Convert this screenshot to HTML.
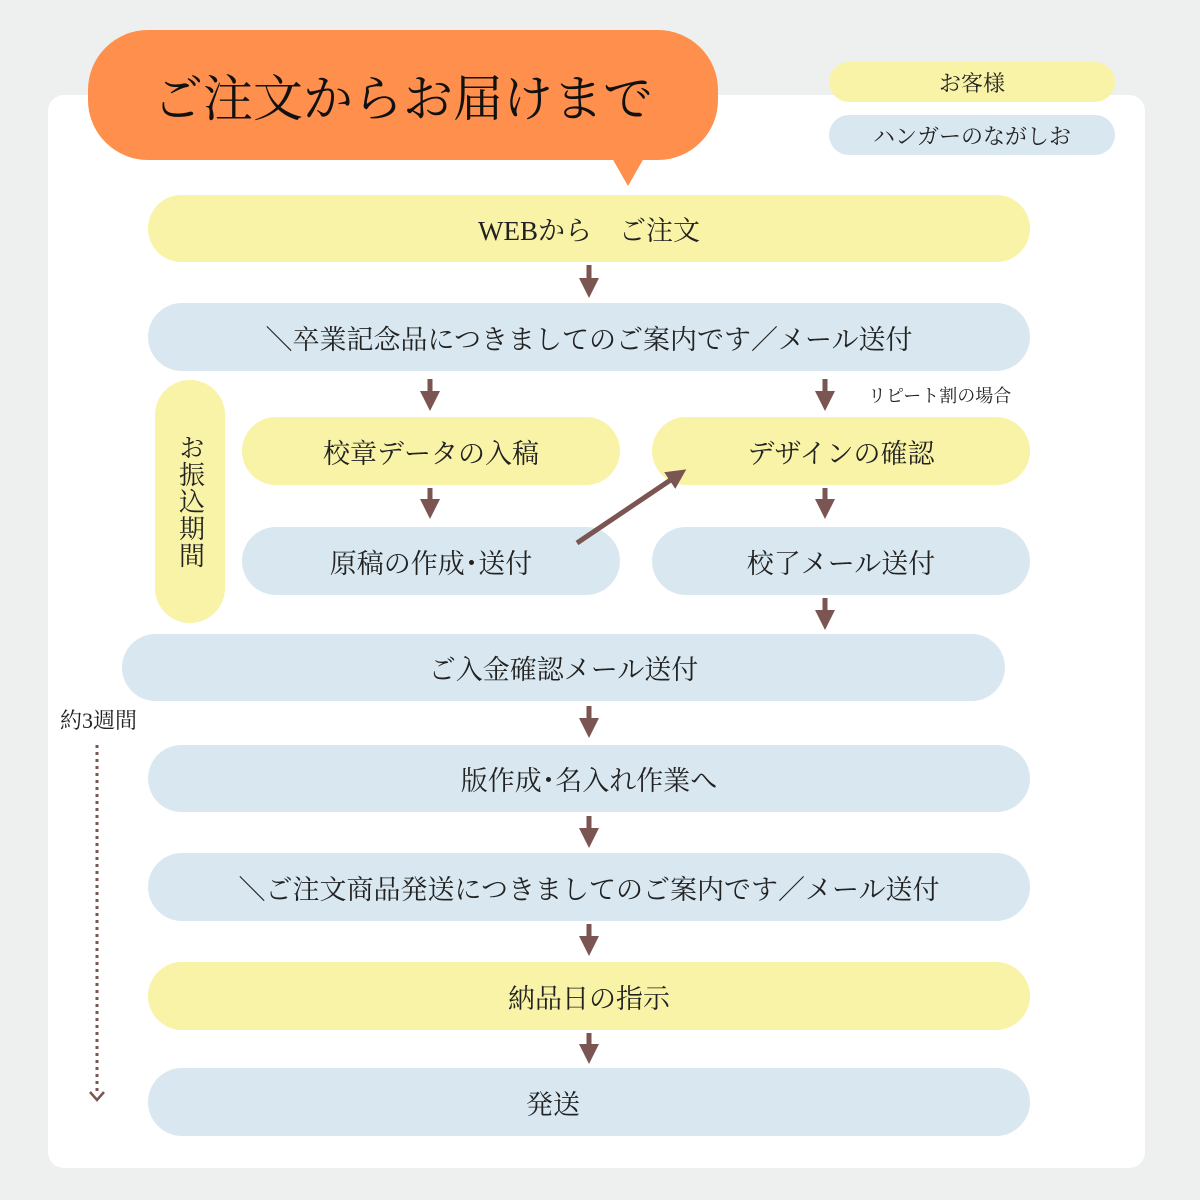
<!DOCTYPE html>
<html><head><meta charset="utf-8"><style>
body{margin:0;width:1200px;height:1200px;background:#eef0f0;position:relative;overflow:hidden;font-family:"Liberation Serif","Noto Serif CJK SC",serif;color:#222}
.a{position:absolute}
.p{position:absolute;border-radius:34px;display:flex;align-items:center;justify-content:center;font-size:27px}
.y{background:#f8f3a6}.b{background:#d9e8f0}
</style></head><body>
<div class="a" style="left:48px;top:95px;width:1097px;height:1073px;background:#fff;border-radius:16px"></div>
<div class="a" style="left:88px;top:30px;width:630px;height:130px;background:#fe8f4c;border-radius:60px;display:flex;align-items:center;justify-content:center;font-size:50px;color:#111">ご注文からお届けまで</div>
<svg class="a" style="left:0;top:0" width="1200" height="1200">
<polygon points="612,158 644,158 628,186" fill="#fe8f4c"/>
</svg>
<div class="p y" style="left:829px;top:62px;width:286px;height:40px;border-radius:20px;font-size:22px">お客様</div>
<div class="p b" style="left:829px;top:115px;width:286px;height:40px;border-radius:20px;font-size:22px">ハンガーのながしお</div>
<div class="p y" style="left:148px;top:195px;width:882px;height:67px">WEBから　ご注文</div>
<div class="p b" style="left:148px;top:303px;width:882px;height:68px">＼卒業記念品につきましてのご案内です／メール送付</div>
<div class="p y" style="left:155px;top:380px;width:70px;height:243px;border-radius:35px;writing-mode:vertical-rl;font-size:26px;letter-spacing:1px">お振込期間</div>
<div class="p y" style="left:242px;top:417px;width:378px;height:68px">校章データの入稿</div>
<div class="p y" style="left:652px;top:417px;width:378px;height:68px">デザインの確認</div>
<div class="p b" style="left:242px;top:527px;width:378px;height:68px">原稿の作成･送付</div>
<div class="p b" style="left:652px;top:527px;width:378px;height:68px">校了メール送付</div>
<div class="p b" style="left:122px;top:634px;width:883px;height:67px">ご入金確認メール送付</div>
<div class="p b" style="left:148px;top:745px;width:882px;height:67px">版作成･名入れ作業へ</div>
<div class="p b" style="left:148px;top:853px;width:882px;height:68px">＼ご注文商品発送につきましてのご案内です／メール送付</div>
<div class="p y" style="left:148px;top:962px;width:882px;height:68px">納品日の指示</div>
<div class="p b" style="left:148px;top:1068px;width:882px;height:68px;padding-right:72px;box-sizing:border-box">発送</div>
<div class="a" style="left:868px;top:382px;font-size:18px">リピート割の場合</div>
<div class="a" style="left:60px;top:704px;font-size:22px">約3週間</div>
<svg class="a" style="left:0;top:0" width="1200" height="1200">
<defs><marker id="m" markerWidth="4" markerHeight="4" refX="2" refY="2" orient="auto" markerUnits="strokeWidth"><path d="M0,0 L4,2 L0,4z" fill="#7a5552"/></marker></defs>
<g stroke="#7a5552" stroke-width="5" marker-end="url(#m)">
<line x1="589" y1="265" x2="589" y2="288"/>
<line x1="430" y1="379" x2="430" y2="401"/>
<line x1="825" y1="379" x2="825" y2="401"/>
<line x1="430" y1="488" x2="430" y2="509"/>
<line x1="825" y1="488" x2="825" y2="509"/>
<line x1="825" y1="598" x2="825" y2="620"/>
<line x1="589" y1="706" x2="589" y2="728"/>
<line x1="589" y1="816" x2="589" y2="838"/>
<line x1="589" y1="924" x2="589" y2="946"/>
<line x1="589" y1="1033" x2="589" y2="1054"/>
<line x1="577" y1="543" x2="678" y2="475"/>
</g>
<line x1="97" y1="745" x2="97" y2="1092" stroke="#7a5552" stroke-width="3" stroke-dasharray="3,4"/>
<polyline points="90,1092 97,1100 104,1092" fill="none" stroke="#7a5552" stroke-width="2.5"/>
</svg>
</body></html>
